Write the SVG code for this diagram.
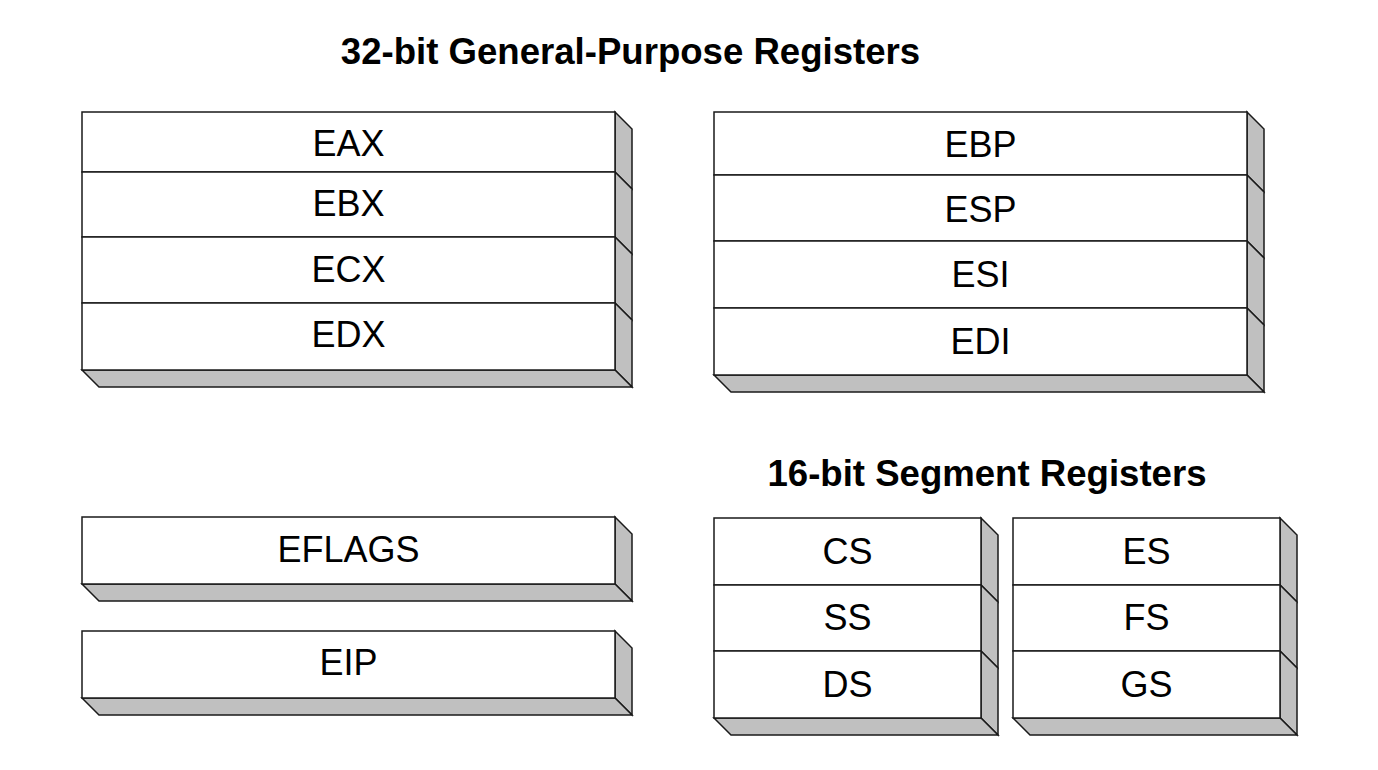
<svg xmlns="http://www.w3.org/2000/svg" width="1378" height="770" viewBox="0 0 1378 770">
<style>
.f{fill:#fff;stroke:#1a1a1a;stroke-width:1.5}
.s{fill:#c0c0c0;stroke:#1a1a1a;stroke-width:1.5;stroke-linejoin:miter}
.t{font-family:"Liberation Sans",Arial,sans-serif;font-size:36px;fill:#000;text-anchor:middle}
.h{font-family:"Liberation Sans",Arial,sans-serif;font-size:36.6px;font-weight:bold;fill:#000;text-anchor:middle}
</style>
<rect width="1378" height="770" fill="#fff"/>
<g id="title-gpr"><text class="h" x="630.5" y="64">32-bit General-Purpose Registers</text></g>
<g id="title-seg"><text class="h" x="987" y="486">16-bit Segment Registers</text></g>

<g id="gpr-left">
<polygon class="s" points="615,112 632,129 632,189 615,172"/>
<polygon class="s" points="615,172 632,189 632,254 615,237"/>
<polygon class="s" points="615,237 632,254 632,320 615,303"/>
<polygon class="s" points="615,303 632,320 632,387 615,370"/>
<polygon class="s" points="82,370 615,370 632,387 99,387"/>
<rect class="f" x="82" y="112" width="533" height="60"/>
<rect class="f" x="82" y="172" width="533" height="65"/>
<rect class="f" x="82" y="237" width="533" height="66"/>
<rect class="f" x="82" y="303" width="533" height="67"/>
<text class="t" x="348.5" y="156">EAX</text>
<text class="t" x="348.5" y="216">EBX</text>
<text class="t" x="348.5" y="282">ECX</text>
<text class="t" x="348.5" y="347">EDX</text>
</g>

<g id="gpr-right">
<polygon class="s" points="1247,112 1264,129 1264,192 1247,175"/>
<polygon class="s" points="1247,175 1264,192 1264,258 1247,241"/>
<polygon class="s" points="1247,241 1264,258 1264,325 1247,308"/>
<polygon class="s" points="1247,308 1264,325 1264,392 1247,375"/>
<polygon class="s" points="714,375 1247,375 1264,392 731,392"/>
<rect class="f" x="714" y="112" width="533" height="63"/>
<rect class="f" x="714" y="175" width="533" height="66"/>
<rect class="f" x="714" y="241" width="533" height="67"/>
<rect class="f" x="714" y="308" width="533" height="67"/>
<text class="t" x="980.5" y="157">EBP</text>
<text class="t" x="980.5" y="222">ESP</text>
<text class="t" x="980.5" y="287">ESI</text>
<text class="t" x="980.5" y="354">EDI</text>
</g>

<g id="eflags">
<polygon class="s" points="615,517 632,534 632,601 615,584"/>
<polygon class="s" points="82,584 615,584 632,601 99,601"/>
<rect class="f" x="82" y="517" width="533" height="67"/>
<text class="t" x="348.5" y="562">EFLAGS</text>
</g>

<g id="eip">
<polygon class="s" points="615,631 632,648 632,715 615,698"/>
<polygon class="s" points="82,698 615,698 632,715 99,715"/>
<rect class="f" x="82" y="631" width="533" height="67"/>
<text class="t" x="348.5" y="675">EIP</text>
</g>

<g id="seg-left">
<polygon class="s" points="981,518 998,535 998,602 981,585"/>
<polygon class="s" points="981,585 998,602 998,668 981,651"/>
<polygon class="s" points="981,651 998,668 998,735 981,718"/>
<polygon class="s" points="714,718 981,718 998,735 731,735"/>
<rect class="f" x="714" y="518" width="267" height="67"/>
<rect class="f" x="714" y="585" width="267" height="66"/>
<rect class="f" x="714" y="651" width="267" height="67"/>
<text class="t" x="847.5" y="564">CS</text>
<text class="t" x="847.5" y="630">SS</text>
<text class="t" x="847.5" y="697">DS</text>
</g>

<g id="seg-right">
<polygon class="s" points="1280,518 1297,535 1297,602 1280,585"/>
<polygon class="s" points="1280,585 1297,602 1297,668 1280,651"/>
<polygon class="s" points="1280,651 1297,668 1297,735 1280,718"/>
<polygon class="s" points="1013,718 1280,718 1297,735 1030,735"/>
<rect class="f" x="1013" y="518" width="267" height="67"/>
<rect class="f" x="1013" y="585" width="267" height="66"/>
<rect class="f" x="1013" y="651" width="267" height="67"/>
<text class="t" x="1146.5" y="564">ES</text>
<text class="t" x="1146.5" y="630">FS</text>
<text class="t" x="1146.5" y="697">GS</text>
</g>

<g id="connectors"/>
</svg>
